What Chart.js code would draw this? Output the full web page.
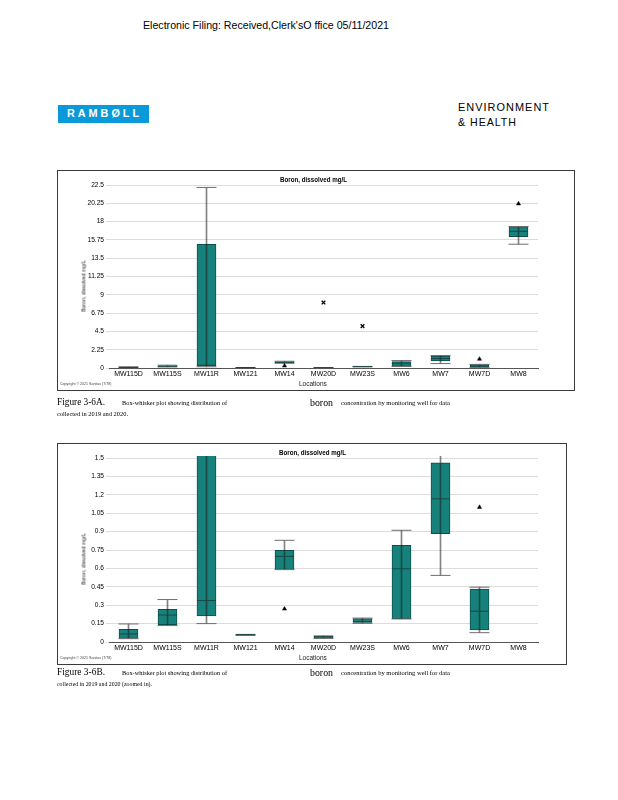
<!DOCTYPE html>
<html><head><meta charset="utf-8">
<script src="https://cdn.jsdelivr.net/npm/chart.js@4.4.1/dist/chart.umd.min.js"></script>
<style>
body{margin:0;background:#fff;width:618px;height:800px;position:relative;overflow:hidden;font-family:"Liberation Sans",Arial,sans-serif;color:#000;}
.t{position:absolute;white-space:nowrap;line-height:1;}
.fit{display:inline-block;transform-origin:0 50%;}
.frame{position:absolute;border:1px solid #3a3a3a;box-sizing:border-box;background:#fff;}
.frame canvas{position:absolute;left:0;top:0;}
.serif{font-family:"Liberation Serif","Times New Roman",serif;}
</style></head><body>

<div class="t" style="left:143px;top:20px;font-size:11px;"><span class="fit" data-w="246">Electronic Filing: Received,Clerk'sO ffice 05/11/2021</span></div>

<div style="position:absolute;left:58px;top:105px;width:91px;height:18px;background:#0a9ad9;"></div>
<div class="t" style="left:67px;top:108px;font-size:11px;font-weight:bold;color:#fff;letter-spacing:3px;"><span class="fit" data-w="75">RAMBØLL</span></div>
<div class="t" style="left:458px;top:102px;font-size:10.7px;letter-spacing:1px;"><span class="fit" data-w="92">ENVIRONMENT</span></div>
<div class="t" style="left:458px;top:117px;font-size:10.7px;letter-spacing:1px;"><span class="fit" data-w="59">&amp; HEALTH</span></div>

<div class="frame" style="left:57px;top:170px;width:518px;height:221px;"><canvas id="cA" width="516" height="219"></canvas></div>
<div class="t" style="left:280px;top:177px;font-size:6.3px;font-weight:bold;"><span class="fit" data-w="67">Boron, dissolved mg/L</span></div>
<div class="t" style="font-size:5.2px;color:#222;transform:translate(-50%,-50%) rotate(-90deg);transform-origin:50% 50%;left:84px;top:286px;">Boron, dissolved mg/L</div>
<div class="t" style="left:299px;top:381px;font-size:6.5px;color:#222;">Locations</div>
<div class="t" style="left:60px;top:383px;font-size:3.6px;color:#444;">Copyright © 2021 Sanitas (7/78)</div>

<div class="t serif" style="left:57px;top:398px;font-size:9.5px;"><span class="fit" data-w="48">Figure 3-6A.</span></div>
<div class="t serif" style="left:122px;top:400px;font-size:6.2px;"><span class="fit" data-w="105">Box-whisker plot showing distribution of</span></div>
<div class="t serif" style="left:310px;top:398px;font-size:10px;"><span class="fit" data-w="23">boron</span></div>
<div class="t serif" style="left:341px;top:400px;font-size:6.2px;"><span class="fit" data-w="109">concentration by monitoring well for data</span></div>
<div class="t serif" style="left:57px;top:411px;font-size:6.3px;"><span class="fit" data-w="71">collected in 2019 and 2020.</span></div>

<div class="frame" style="left:57px;top:443px;width:510px;height:222px;"><canvas id="cB" width="508" height="220"></canvas></div>
<div class="t" style="left:279px;top:450px;font-size:6.3px;font-weight:bold;"><span class="fit" data-w="67">Boron, dissolved mg/L</span></div>
<div class="t" style="font-size:5.2px;color:#222;transform:translate(-50%,-50%) rotate(-90deg);transform-origin:50% 50%;left:84px;top:559px;">Boron, dissolved mg/L</div>
<div class="t" style="left:299px;top:655px;font-size:6.5px;color:#222;">Locations</div>
<div class="t" style="left:60px;top:657px;font-size:3.6px;color:#444;">Copyright © 2021 Sanitas (7/78)</div>

<div class="t serif" style="left:57px;top:668px;font-size:9.5px;"><span class="fit" data-w="48">Figure 3-6B.</span></div>
<div class="t serif" style="left:122px;top:670px;font-size:6.2px;"><span class="fit" data-w="105">Box-whisker plot showing distribution of</span></div>
<div class="t serif" style="left:310px;top:668px;font-size:10px;"><span class="fit" data-w="23">boron</span></div>
<div class="t serif" style="left:341px;top:670px;font-size:6.2px;"><span class="fit" data-w="109">concentration by monitoring well for data</span></div>
<div class="t serif" style="left:57px;top:681px;font-size:6.3px;"><span class="fit" data-w="95">collected in 2019 and 2020 (zoomed in).</span></div>

<script>
// ---- data (mg/L) ----
const locations    = ['MW115D','MW115S','MW11R','MW121','MW14','MW20D','MW23S','MW6','MW7','MW7D','MW8'];
const whiskerLow   = [0.027, 0.134, 0.15,  0.054, 0.59,  0.03,  0.152, 0.188, 0.543, 0.076, 15.22];
const boxLow       = [0.03,  0.142, 0.213, 0.054, 0.592, 0.03,  0.16,  0.19,  0.884, 0.098, 16.16];
const medians      = [0.065, 0.22,  0.338, 0.06,  0.698, 0.04,  0.165, 0.597, 1.167, 0.251, 16.8];
const boxHigh      = [0.104, 0.267, 15.2,  0.062, 0.747, 0.046, 0.19,  0.788, 1.46,  0.431, 17.39];
const whiskerHigh  = [0.147, 0.346, 22.2,  0.062, 0.829, 0.05,  0.195, 0.911, 1.53,  0.447, 17.39];
const triangleOutliers = [null, null, null, null, 0.27, null, null, null, null, 1.099, 20.2];
const crossOutliers    = [null, null, null, null, null, 8.05, 5.15, null, null, null, null];
const yTicksA = [0, 2.25, 4.5, 6.75, 9, 11.25, 13.5, 15.75, 18, 20.25, 22.5];
const yTicksB = [0, 0.15, 0.3, 0.45, 0.6, 0.75, 0.9, 1.05, 1.2, 1.35, 1.5];

function fitAll(){
  document.querySelectorAll('.fit').forEach(el=>{
    const w = el.getBoundingClientRect().width;
    const target = +el.dataset.w;
    if (w>0) el.style.transform = 'scaleX(' + (target/w) + ')';
  });
}
fitAll();

const CLIP = {left:0, right:0, top:2, bottom:0};
const tickFont = {family:'"Liberation Sans", Arial, sans-serif', size:6.6};
const xFont = {family:'"Liberation Sans", Arial, sans-serif', size:7};

function makeChart(id, yTicks, rightPad){
  const yMax = yTicks[yTicks.length-1];
  return new Chart(document.getElementById(id), {
    type:'bar',
    data:{
      labels: locations,
      datasets:[
        {type:'bar', data: locations.map((_,i)=>[boxLow[i], boxHigh[i]]),
         backgroundColor:'#16827b', borderColor:'#0c4f4b', borderWidth:1, borderSkipped:false,
         barThickness:19, grouped:false, order:5, clip:CLIP},
        {type:'bar', data: locations.map((_,i)=>[whiskerLow[i], whiskerHigh[i]]),
         backgroundColor:'rgba(30,30,30,0.55)', borderWidth:0,
         barThickness:1, grouped:false, order:4, clip:CLIP},
        {type:'line', data: whiskerLow, showLine:false, pointStyle:'line', pointRadius:10,
         pointBorderColor:'#6e6e6e', pointBorderWidth:1, order:3, clip:0},
        {type:'line', data: whiskerHigh, showLine:false, pointStyle:'line', pointRadius:10,
         pointBorderColor:'#6e6e6e', pointBorderWidth:1, order:3, clip:0},
        {type:'line', data: medians, showLine:false, pointStyle:'line', pointRadius:9.5,
         pointBorderColor:'#1a4643', pointBorderWidth:1, order:2, clip:0},
        {type:'line', data: triangleOutliers, showLine:false, pointStyle:'triangle', pointRadius:2.4,
         pointBackgroundColor:'#000', pointBorderColor:'#000', pointBorderWidth:0.5, order:1, clip:0},
        {type:'line', data: crossOutliers, showLine:false, pointStyle:'crossRot', pointRadius:2.6,
         pointBorderColor:'#000', pointBorderWidth:1.3, order:1, clip:0}
      ]
    },
    options:{
      responsive:false, animation:false, devicePixelRatio:1,
      layout:{padding:{left:0, right:rightPad, top:14, bottom:0}},
      plugins:{legend:{display:false}, tooltip:{enabled:false}, title:{display:false}},
      scales:{
        x:{
          grid:{display:false, drawTicks:false},
          border:{display:true, color:'#555', width:1},
          ticks:{font:xFont, color:'#000', padding:2, maxRotation:0, autoSkip:false},
          afterFit:s=>{s.height=22;}
        },
        y:{
          min:0, max:yMax,
          afterBuildTicks:s=>{s.ticks = yTicks.map(v=>({value:v}));},
          grid:{color:'#dcdcdc', lineWidth:1, tickLength:3, drawTicks:true},
          border:{display:false},
          ticks:{font:tickFont, color:'#000', padding:2,
                 callback:v=>String(Math.round(v*100)/100)},
          afterFit:s=>{s.width=51;}
        }
      }
    }
  });
}
makeChart('cA', yTicksA, 36);
makeChart('cB', yTicksB, 28);
</script>
</body></html>
